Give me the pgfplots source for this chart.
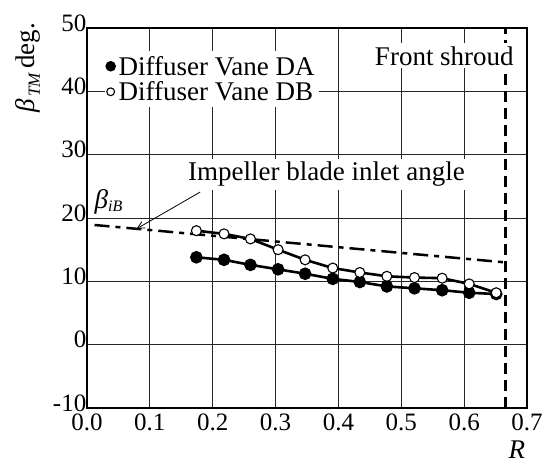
\documentclass[border=0pt]{standalone}
\usepackage{fontspec}
\setmainfont{Liberation Serif}
\usepackage{pgfplots}
\pgfplotsset{compat=1.18}
\usetikzlibrary{arrows.meta}

\newcommand{\tickfont}{\fontsize{25}{28}\selectfont}
\newcommand{\labfont}{\fontsize{27}{30}\selectfont}

\begin{document}
\begin{tikzpicture}
\begin{axis}[
  scale only axis,
  width=440pt, height=380pt,
  xmin=0, xmax=0.7, ymin=-10, ymax=50,
  xtick={0,0.1,0.2,0.3,0.4,0.5,0.6,0.7},
  ytick={-10,0,10,20,30,40,50},
  grid=major,
  grid style={black!85, line width=0.9pt},
  axis line style={line width=2pt},
  major tick length=0pt,
  /pgf/number format/assume math mode=true,
  xticklabel style={/pgf/number format/fixed, /pgf/number format/fixed zerofill,
    /pgf/number format/precision=1, inner sep=0pt, yshift=-6pt},
  ticklabel style={font=\tickfont},
  yticklabel style={inner sep=0.5pt, yshift=5pt},
  clip=false,
  legend style={at={(rel axis cs:0.04,0.94)}, anchor=north west, draw=none,
    fill=white, font=\labfont, inner xsep=2pt, inner ysep=3pt, row sep=1pt,
    /tikz/every odd column/.append style={column sep=2pt}},
  legend cell align=left,
  legend image code/.code={\draw[#1, mark size=3.9pt] plot coordinates {(0.25cm,0cm)};},
]

\addplot[line width=2.5pt, dash pattern=on 15pt off 6pt on 5pt off 6pt, forget plot]
  coordinates {(0.012,18.9) (0.665,13)};
\addplot[line width=3pt, dash pattern=on 11pt off 6pt, forget plot]
  coordinates {(0.665,-10) (0.665,50)};

\addplot[line width=2.6pt, mark=*, mark size=5pt, mark options={fill=black, solid}]
  coordinates {
  (0.174,13.8) (0.218,13.4) (0.260,12.6) (0.304,11.9) (0.347,11.2) (0.391,10.4)
  (0.434,9.9) (0.477,9.2) (0.521,8.9) (0.565,8.6) (0.608,8.2) (0.651,8.0)};
\addlegendentry{Diffuser Vane DA}

\addplot[line width=2.6pt, mark=*, mark size=5pt, mark options={fill=white, line width=1.1pt, solid}]
  coordinates {
  (0.174,18.0) (0.218,17.5) (0.260,16.7) (0.304,15.0) (0.347,13.4) (0.391,12.1)
  (0.434,11.4) (0.477,10.8) (0.521,10.6) (0.565,10.5) (0.608,9.6) (0.651,8.2)};
\addlegendentry{Diffuser Vane DB}

\node[fill=white, anchor=east, inner sep=3pt, font=\labfont] at (axis cs:0.684,45.6) {Front shroud};
\node[fill=white, inner sep=3pt, font=\labfont] at (axis cs:0.381,26.9) {Impeller blade inlet angle};
\draw[-{Straight Barb[length=7pt,width=7pt]}, line width=0.8pt]
  (axis cs:0.18,24.1) -- (axis cs:0.079,18.3);
\node[font=\labfont, anchor=west, inner sep=0pt] at (axis cs:0.012,22.6)
  {\itshape β\raisebox{-0.3ex}{\fontsize{16}{16}\selectfont iB}};

\node[rotate=90, font=\labfont, inner sep=0pt] at (rel axis cs:-0.135,0.895)
  {\itshape β\raisebox{-0.45ex}{\fontsize{17}{17}\selectfont\itshape\,TM}\,\upshape deg.};
\node[font=\labfont\itshape, inner sep=0pt] at (rel axis cs:0.977,-0.11) {R};

\path (rel axis cs:-0.1977,-0.1447) rectangle (rel axis cs:1.0636,1.0737);
\end{axis}
\end{tikzpicture}
\end{document}
